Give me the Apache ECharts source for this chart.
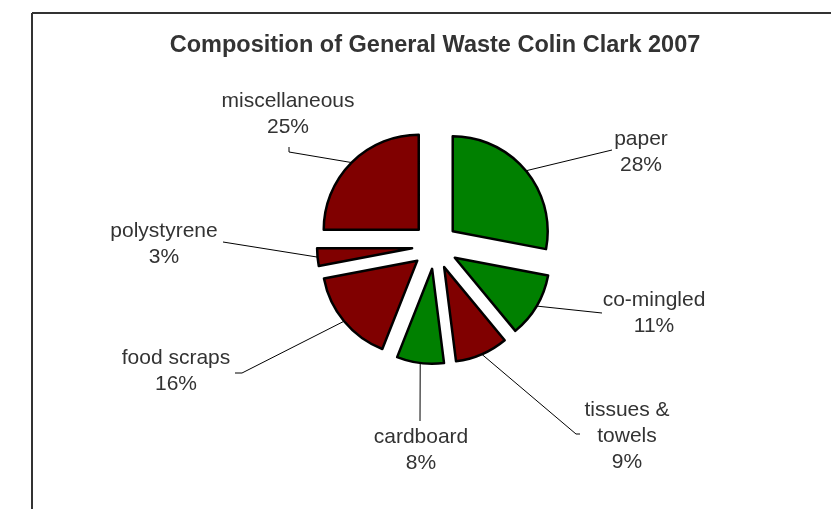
<!DOCTYPE html>
<html>
<head>
<meta charset="utf-8">
<script src="https://cdn.jsdelivr.net/npm/echarts@6/dist/echarts.min.js"></script>
<style>
html,body{margin:0;padding:0;background:#fff;}
#chart{width:831px;height:509px;}
</style>
</head>
<body>
<div id="chart"></div>
<script>
const titleText = 'Composition of General Waste Colin Clark 2007';
const categories = ['paper', 'co-mingled', 'tissues &\ntowels', 'cardboard', 'food scraps', 'polystyrene', 'miscellaneous'];
const values = [28, 11, 9, 8, 16, 3, 25];
const sliceColors = ['#008000', '#008000', '#800000', '#008000', '#800000', '#800000', '#800000'];

// layout only: centre of each label block, and the bend/end of its leader line
const labelCentres = [[641, 152], [654, 313], [627, 436], [421, 450], [176, 371], [164, 244], [288, 114]];
const leaderBends = [[[612, 150], [612, 150]], [[602, 313], [602, 313]], [[576, 434], [580, 434]],
  [[420, 421], [420, 421]], [[242, 373], [235, 373]], [[223, 242], [223, 242]], [[289, 152], [289, 147]]];

const FONT = '"Liberation Sans", Arial, sans-serif';
const CENTER = [435, 246], R = 95, EXPLODE = 23;

const chart = echarts.init(document.getElementById('chart'), null, {renderer: 'canvas'});

chart.setOption({
  animation: false,
  graphic: [
    {type: 'line', shape: {x1: 32, y1: 13, x2: 831, y2: 13}, style: {stroke: '#333', lineWidth: 2}},
    {type: 'line', shape: {x1: 32, y1: 13, x2: 32, y2: 509}, style: {stroke: '#333', lineWidth: 2}},
    {type: 'text', x: 435, y: 46, style: {text: titleText, align: 'center', verticalAlign: 'middle',
      font: 'bold 23.5px ' + FONT, fill: '#333'}}
  ],
  series: [{
    type: 'pie',
    center: CENTER,
    radius: [0, R],
    startAngle: 90,
    clockwise: true,
    selectedMode: 'multiple',
    selectedOffset: EXPLODE,
    emphasis: {disabled: true, scale: false},
    itemStyle: {borderColor: '#000', borderWidth: 2.5},
    label: {show: false},
    labelLine: {show: false},
    data: categories.map((c, i) => ({name: c, value: values[i], selected: true, itemStyle: {color: sliceColors[i]}}))
  }, {
    // transparent twin at the exploded outer radius, carrying the labels
    type: 'pie',
    center: CENTER,
    radius: [0, R + EXPLODE],
    startAngle: 90,
    clockwise: true,
    silent: true,
    selectedMode: false,
    avoidLabelOverlap: false,
    emphasis: {disabled: true, scale: false},
    itemStyle: {color: 'rgba(0,0,0,0)', borderWidth: 0},
    label: {
      show: true, position: 'outside',
      formatter: p => p.name + '\n' + p.value + '%',
      fontFamily: FONT, fontSize: 21, lineHeight: 26, color: '#333', align: 'center'
    },
    labelLine: {show: true, length: 15, length2: 10, lineStyle: {color: '#000', width: 1}},
    labelLayout: function (params) {
      const i = params.dataIndex;
      const c = labelCentres[i];
      const b = leaderBends[i];
      const p0 = params.labelLinePoints ? params.labelLinePoints[0] : b[0];
      return {x: c[0], y: c[1], align: 'center', verticalAlign: 'middle',
        labelLinePoints: [p0, b[0], b[1]]};
    },
    data: categories.map((c, i) => ({name: c, value: values[i]}))
  }]
});
</script>
</body>
</html>
